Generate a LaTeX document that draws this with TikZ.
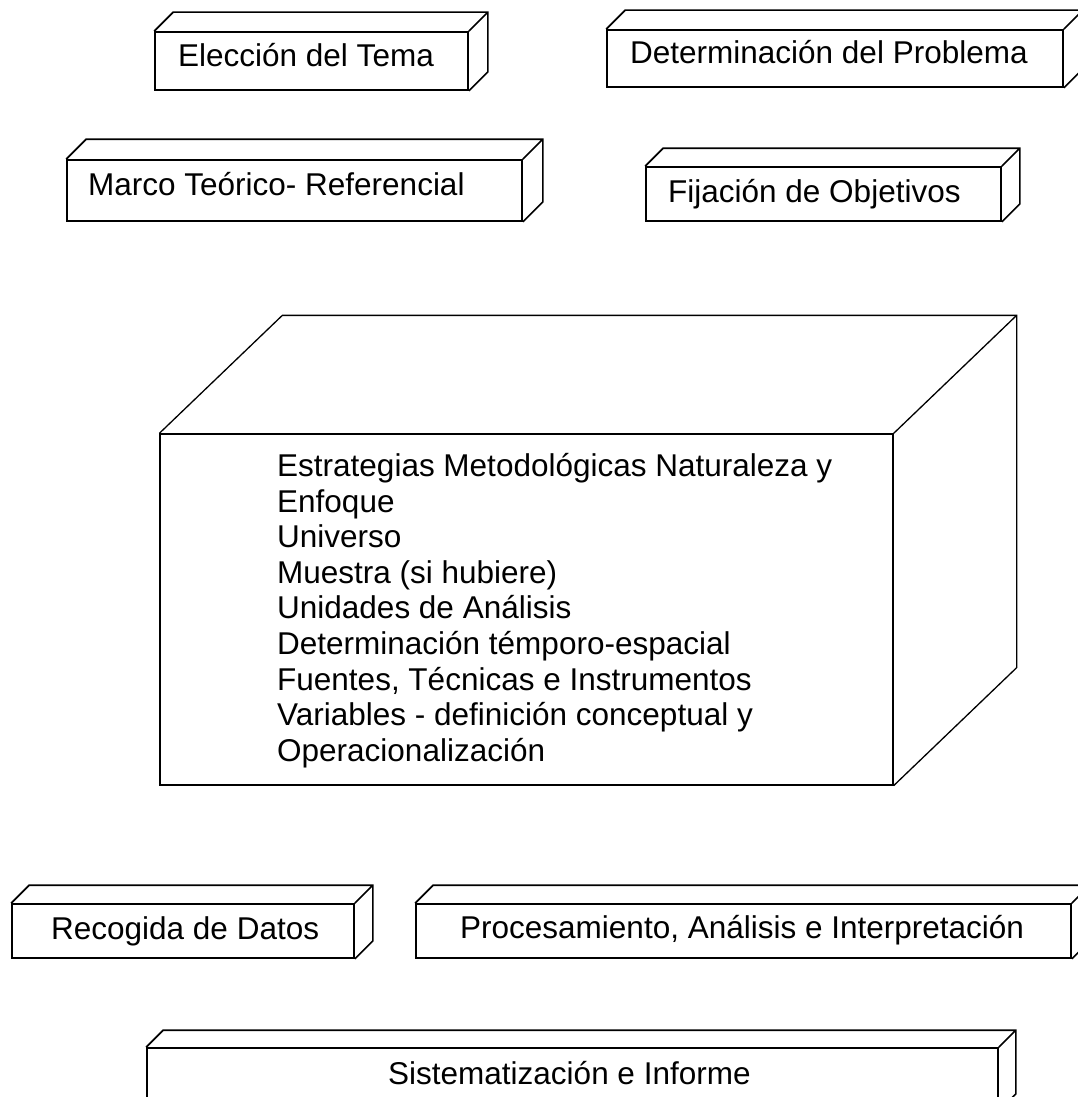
\documentclass[tikz,border=0pt]{standalone}
\usepackage{fontspec}
\setmainfont{Liberation Sans}
\usetikzlibrary{positioning}
\tikzset{
  caja/.style  = {shape=rectangle, draw, line width=1.7pt, inner sep=0pt, fill=white},
  cara/.style  = {draw, line width=1.7pt, line join=miter},
  texto/.style = {inner sep=0pt, font=\fontsize{31.5}{35.6}\selectfont}
}

\begin{document}
\begin{tikzpicture}[x=1pt, y=-1pt]
\useasboundingbox (0,0) rectangle (1078,1097);
\clip (0,0) rectangle (1078,1097);

% cajas frontales
\node [caja, minimum width=313pt, minimum height=58pt] (tema)      at (311.5,61)  {};
\node [caja, minimum width=456pt, minimum height=57pt] (problema)  at (835,58.5)  {};
\node [caja, minimum width=455pt, minimum height=61pt] (marco)     at (294.5,190.5) {};
\node [caja, minimum width=355pt, minimum height=54pt] (objetivos) at (823.5,194) {};
\node [caja, minimum width=733pt, minimum height=351pt, line width=1.3pt] (estrategias) at (526.5,609.5) {};
\node [caja, minimum width=342pt, minimum height=54pt] (datos)     at (183,931)   {};
\node [caja, minimum width=655pt, minimum height=54pt] (proceso)   at (743.5,931) {};
\node [caja, minimum width=851pt, minimum height=62pt] (informe)   at (572.5,1079) {};

% caras superior y lateral
\foreach \n/\d in {tema/19, problema/19, marco/20, objetivos/18, datos/18, proceso/18, informe/17}
  \draw [cara] (\n.north west) -- ++(\d,-\d) -- ([shift={(\d,-\d)}]\n.north east)
               -- ([shift={(\d,-\d)}]\n.south east) -- (\n.south east)
               (\n.north east) -- ([shift={(\d,-\d)}]\n.north east);
\draw [cara, line width=1.3pt] (estrategias.north west) -- ++(123,-118)
      -- ([shift={(123,-118)}]estrategias.north east)
      -- ([shift={(123,-118)}]estrategias.south east) -- (estrategias.south east)
      (estrategias.north east) -- ([shift={(123,-118)}]estrategias.north east);

% textos
\node [texto, anchor=base west] (tema-txt)      at (178,67)  {Elección del Tema};
\node [texto, anchor=base west] (problema-txt)  at (630,64)  {Determinación del Problema};
\node [texto, anchor=base west] (marco-txt)     at (88,195)  {Marco Teórico- Referencial};
\node [texto, anchor=base west] (objetivos-txt) at (668,202) {Fijación de Objetivos};
\node [texto, anchor=north west, align=left] (estrategias-txt) at (277,453)
  {Estrategias Metodológicas Naturaleza y\\
   Enfoque\\
   Universo\\
   Muestra (si hubiere)\\
   Unidades de Análisis\\
   Determinación témporo-espacial\\
   Fuentes, Técnicas e Instrumentos\\
   Variables - definición conceptual y\\
   Operacionalización};
\node [texto, anchor=base west] (datos-txt)     at (51,939)   {Recogida de Datos};
\node [texto, anchor=base west] (proceso-txt)   at (460,938)  {Procesamiento, Análisis e Interpretación};
\node [texto, anchor=base west] (informe-txt)   at (388,1084) {Sistematización e Informe};
\end{tikzpicture}
\end{document}
